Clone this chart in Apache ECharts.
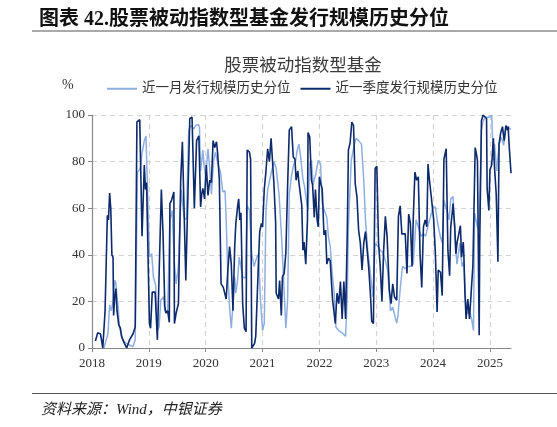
<!DOCTYPE html>
<html>
<head>
<meta charset="utf-8">
<script src="https://cdn.jsdelivr.net/npm/echarts@6/dist/echarts.min.js"></script>
<style>
html,body{margin:0;padding:0;background:#fff;}
#main{width:557px;height:427px;}
</style>
</head>
<body>
<div id="main"></div>
<script>
// 近一季度发行规模历史分位（深色）
var quarterX = [2018.06,2018.10,2018.15,2018.19,2018.23,2018.27,2018.29,2018.31,2018.33,2018.35,2018.37,2018.38,2018.40,2018.42,2018.44,2018.47,2018.50,2018.52,2018.57,2018.61,2018.66,2018.72,2018.76,2018.79,2018.84,2018.88,2018.90,2018.92,2018.94,2018.96,2018.98,
	2019.01,2019.03,2019.06,2019.11,2019.15,2019.22,2019.25,2019.28,2019.30,2019.33,2019.36,2019.37,2019.40,2019.44,2019.45,2019.48,2019.52,2019.56,2019.59,2019.62,2019.65,2019.68,2019.72,2019.76,2019.80,2019.84,2019.88,2019.91,2019.93,2019.95,2019.98,
	2020.01,2020.04,2020.07,2020.10,2020.13,2020.16,2020.19,2020.21,2020.24,2020.27,2020.31,2020.36,2020.39,2020.42,2020.45,2020.48,2020.51,2020.53,2020.56,2020.58,2020.60,2020.62,2020.65,2020.68,2020.71,2020.73,2020.77,2020.79,2020.81,2020.86,2020.88,2020.93,2020.95,2020.98,
	2021.00,2021.03,2021.06,2021.09,2021.12,2021.15,2021.17,2021.20,2021.23,2021.24,2021.28,2021.30,2021.33,2021.35,2021.38,2021.41,2021.44,2021.47,2021.51,2021.54,2021.57,2021.59,2021.62,2021.64,2021.69,2021.71,2021.73,2021.76,2021.79,2021.80,2021.83,2021.86,2021.88,2021.91,2021.93,2021.96,2021.98,
	2022.00,2022.02,2022.05,2022.08,2022.11,2022.13,2022.16,2022.19,2022.23,2022.28,2022.31,2022.34,2022.37,2022.40,2022.43,2022.46,2022.49,2022.51,2022.54,2022.57,2022.60,2022.63,2022.66,2022.69,2022.72,2022.75,2022.78,2022.81,2022.84,2022.87,2022.90,2022.92,2022.95,2022.98,
	2023.01,2023.04,2023.07,2023.10,2023.13,2023.16,2023.19,2023.23,2023.26,2023.29,2023.32,2023.36,2023.39,2023.42,2023.45,2023.48,2023.51,2023.54,2023.57,2023.60,2023.63,2023.65,2023.68,2023.71,2023.74,2023.77,2023.80,2023.83,2023.86,2023.89,2023.91,2023.93,2023.95,2023.98,
	2024.01,2024.04,2024.07,2024.09,2024.13,2024.16,2024.19,2024.23,2024.26,2024.29,2024.31,2024.34,2024.35,2024.38,2024.40,2024.42,2024.45,2024.48,2024.50,2024.53,2024.54,2024.56,2024.58,2024.61,2024.64,2024.67,2024.70,2024.72,2024.74,2024.76,2024.78,2024.81,2024.82,2024.85,2024.88,2024.91,2024.94,2024.95,2024.98,
	2025.00,2025.03,2025.06,2025.08,2025.11,2025.14,2025.16,2025.19,2025.22,2025.25,2025.28,2025.31,2025.32,2025.34,2025.37];
var quarterY = [3,6.5,6,0,16,57,55,66.5,60,40,39,14,22,25.5,16,10,8.5,5,2,0,3.5,6,9,97,98,48,48,78.5,68,71,71,
	10.5,8.5,24,24,3.5,68,48.5,18,15,16,11,62,63.5,67,10.5,15,19,72,88.5,88,29,29,98.5,99,60,89,91,60.5,66,68.5,64,
	78.5,65.5,72,71,89,86,88.5,83.5,72,27.5,26,21,33.5,43.5,36,16,43.5,53.5,60.5,64,55,58,19,8.5,7,85,84,81,0,2,5,38,50,53.5,
	52,68,76,85.5,80,90,90.5,70.5,54,23.5,21,29,14,30.5,32,41,69,93.5,95,82,81,72,76,71,61,42,45.5,36,55,92.5,90.5,72,70,56,68,55,52,
	73.5,71,68,48.5,50.5,36,38.5,37.5,21,10.5,23.5,19,28.5,12.5,28.5,12.5,49,85,88,97,95.5,70.5,65,50.5,45,33.5,45,50,42,33.5,22,11.5,10.5,77,
	78,45,35,20,42,56.5,48,25,19,27.5,22,20.5,56.5,61,49,48.5,49,32,57.5,53.5,35,55,75.5,72,73.5,40.5,26,52,55,52,79,73.5,74,62,
	55,40.5,15.5,33.5,32.5,22.5,81,85.5,42,31,52,59,62,52,40.5,45,45.5,52.5,39,45.5,40.5,23.5,12.5,21,12.5,24,35.5,36,86,83.5,80.5,5.5,45,97.5,100,100,98.5,68.5,59,
	76.5,78.5,90,77.5,66,37,87.5,92.5,95,89,95.5,93.5,95,86,75];

// 近一月发行规模历史分位（浅色）
var monthX = [2018.21,2018.25,2018.28,2018.31,2018.34,2018.37,2018.40,2018.42,2018.44,2018.46,2018.48,2018.54,2018.60,2018.66,2018.72,2018.76,2018.80,2018.85,2018.88,2018.92,2018.95,2018.98,
	2019.01,2019.05,2019.08,2019.12,2019.15,2019.18,2019.21,2019.26,2019.28,2019.33,2019.37,2019.41,2019.45,2019.48,2019.52,2019.57,2019.62,2019.66,2019.70,2019.74,2019.79,2019.82,2019.87,2019.89,2019.91,2019.95,2019.97,
	2020.00,2020.04,2020.07,2020.10,2020.14,2020.17,2020.22,2020.26,2020.30,2020.34,2020.36,2020.39,2020.42,2020.45,2020.48,2020.51,2020.53,2020.56,2020.59,2020.62,2020.65,2020.70,2020.73,2020.77,2020.81,2020.85,2020.90,2020.93,2020.96,
	2021.00,2021.03,2021.06,2021.09,2021.12,2021.16,2021.20,2021.24,2021.29,2021.34,2021.38,2021.41,2021.44,2021.47,2021.51,2021.55,2021.58,2021.61,2021.64,2021.67,2021.71,2021.74,2021.77,2021.80,2021.83,2021.86,2021.89,2021.91,2021.93,2021.98,
	2022.02,2022.05,2022.09,2022.13,2022.16,2022.19,2022.22,2022.26,2022.29,2022.34,2022.40,2022.46,2022.49,2022.51,2022.56,2022.60,2022.64,2022.69,2022.74,2022.78,2022.81,2022.85,2022.89,2022.94,2022.98,
	2023.03,2023.07,2023.11,2023.16,2023.20,2023.25,2023.29,2023.33,2023.36,2023.38,2023.42,2023.46,2023.51,2023.56,2023.60,2023.65,2023.70,2023.74,2023.79,2023.83,2023.87,2023.92,2023.95,
	2024.00,2024.04,2024.08,2024.13,2024.16,2024.19,2024.22,2024.25,2024.28,2024.31,2024.35,2024.38,2024.40,2024.42,2024.47,2024.51,2024.54,2024.57,2024.60,2024.65,2024.68,2024.71,2024.73,2024.78,2024.81,2024.85,2024.88,2024.92,2024.98,
	2025.03,2025.06,2025.08,2025.12,2025.16,2025.20,2025.24,2025.28,2025.32,2025.35,2025.37];
var monthY = [0,3.5,6,18.5,16,20,29,28,22,18,9,3.5,2,1.3,0.5,3.5,75.5,77,83.5,89,91,90.5,
	39,40.5,30.5,27,7.5,9,20.5,22,16,15,55,59,36,27.5,35,68,56,55,93.5,95.5,94,95.5,96,95,76,85,78.5,
	73.5,85.5,77.5,66,80.5,84,78.5,75.5,67,67.5,55,30.5,17.5,8.5,19,30.5,23.5,29,39,39,30.5,30,61,59,40.5,35,39,40.5,22,
	7.5,10.5,59,68,68.5,76,80,77,66,45,24,8.5,20,66,74,79,80,85,87.5,82,72.5,69,63.5,59,79,80.5,70,72.5,74,80.5,
	79,62,59,56,47.5,43.5,33.5,23.5,9,7.5,6.5,5,22,52,80.5,85.5,90,89,87.5,72,55,42,33.5,22,45,
	43.5,42,41,37.5,33.5,16,17.5,13.5,10.7,13.5,25,35,34,35,35,36,55,52,48,49,48,53.5,56,
	60.5,60.5,53.5,47.5,45,63.5,60.5,58.5,55,64,65,65.5,42,36,45,35,37,20.5,15,15,12,7.5,58,52,50.5,93.5,97.5,99,99,
	100,80.5,87.5,76,87.5,90.5,87,94,95,94,94];

var yTicks = [0,20,40,60,80,100];

function pairs(xs, ys){
	var out = [];
	for(var i = 0; i < xs.length; i++){
		out.push([xs[i], ys[i]]);
	}
	return out;
}

var cnFont = 'Liberation Serif, "Noto Sans CJK SC", serif';

var myChart = echarts.init(document.getElementById('main'));

var option = {
	backgroundColor: '#fff',
	animation: false,
	title: [{
		text: '图表 42.股票被动指数型基金发行规模历史分位',
		left: 34, top: 5,
		textStyle: {fontFamily: cnFont, fontSize: 20, fontWeight: 'bold', color: '#111'}
	},{
		text: '股票被动指数型基金',
		left: 298, top: 53, textAlign: 'center',
		textStyle: {fontFamily: cnFont, fontSize: 17.5, fontWeight: 'normal', color: '#3a3a3a'}
	},{
		text: '资料来源：Wind，中银证券',
		left: 36, top: 398,
		textStyle: {fontFamily: cnFont, fontSize: 15, fontStyle: 'italic', fontWeight: 'normal', color: '#222'}
	}],
	graphic: [
		{type: 'line', shape: {x1: 32, y1: 31, x2: 557, y2: 31}, style: {stroke: '#555', lineWidth: 1.2}},
		{type: 'line', shape: {x1: 32, y1: 393.5, x2: 557, y2: 393.5}, style: {stroke: '#555', lineWidth: 1.2}},
		{type: 'text', left: 62, top: 78, style: {text: '%', fontFamily: cnFont, fontSize: 14, fill: '#333'}}
	],
	legend: {
		left: 107, top: 82,
		itemWidth: 30, itemHeight: 2, itemGap: 10,
		icon: 'rect',
		padding: 0,
		textStyle: {fontFamily: cnFont, fontSize: 13.5, color: '#333'},
		data: ['近一月发行规模历史分位','近一季度发行规模历史分位']
	},
	grid: {left: 92, right: 46, top: 115, bottom: 79, containLabel: false},
	xAxis: {
		type: 'value',
		min: 2018, max: 2025.37, interval: 1,
		axisLine: {lineStyle: {color: '#888', width: 1.2}},
		axisTick: {show: true, length: 4, lineStyle: {color: '#888'}},
		axisLabel: {
			margin: 9, fontFamily: cnFont, fontSize: 13, color: '#333',
			showMaxLabel: false,
			formatter: function(v){ return Math.abs(v - Math.round(v)) < 1e-6 ? String(Math.round(v)) : ''; }
		},
		splitLine: {show: true, lineStyle: {type: [5,4], width: 1.2,
			color: ['rgba(0,0,0,0)','#d4d4d4','#d4d4d4','#d4d4d4','#d4d4d4','#d4d4d4','#d4d4d4','#d4d4d4','rgba(0,0,0,0)']}}
	},
	yAxis: {
		type: 'value',
		min: yTicks[0], max: yTicks[yTicks.length-1], interval: 20,
		axisLine: {show: true, lineStyle: {color: '#888', width: 1.2}},
		axisTick: {show: true, length: 4, lineStyle: {color: '#888'}},
		axisLabel: {margin: 7, fontFamily: cnFont, fontSize: 13, color: '#333'},
		splitLine: {show: true, lineStyle: {type: [5,4], color: '#d4d4d4', width: 1.2}}
	},
	series: [{
		name: '近一月发行规模历史分位',
		type: 'line',
		data: pairs(monthX, monthY),
		showSymbol: false,
		symbol: 'none',
		lineStyle: {color: '#8faee0', width: 1.5},
		itemStyle: {color: '#8faee0'},
		z: 2
	},{
		name: '近一季度发行规模历史分位',
		type: 'line',
		data: pairs(quarterX, quarterY),
		showSymbol: false,
		symbol: 'none',
		lineStyle: {color: '#0d2a6c', width: 1.6},
		itemStyle: {color: '#0d2a6c'},
		z: 3
	}]
};

myChart.setOption(option);
</script>
</body>
</html>
